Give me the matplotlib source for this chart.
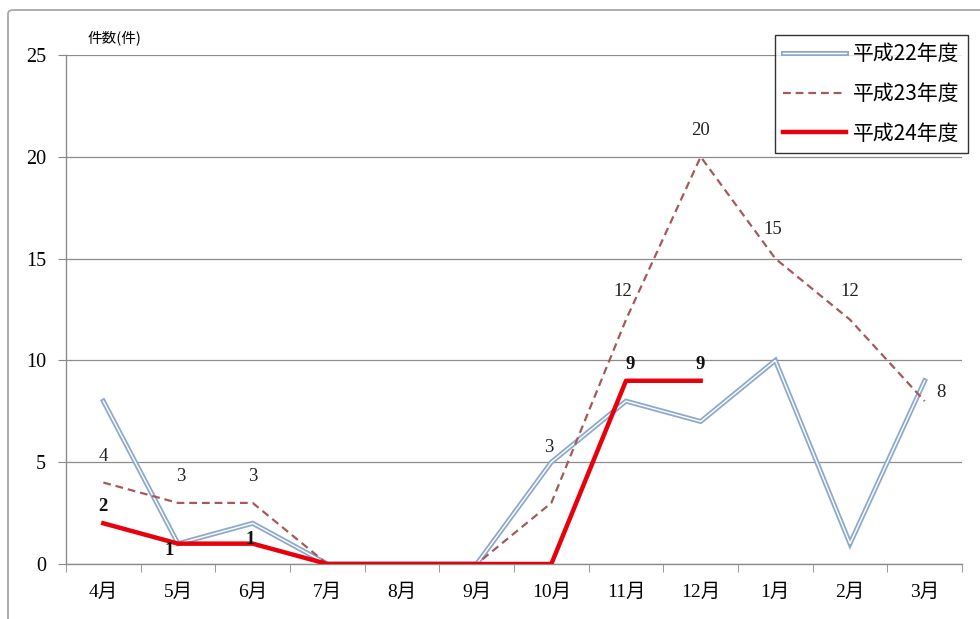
import matplotlib.pyplot as plt
import matplotlib.patheffects as pe
from matplotlib.patches import FancyBboxPatch

months = ["4月", "5月", "6月", "7月", "8月", "9月", "10月", "11月", "12月", "1月", "2月", "3月"]
h22 = [8, 1, 2, 0, 0, 0, 5, 8, 7, 10, 1, 9]
h23 = [4, 3, 3, 0, 0, 0, 3, 12, 20, 15, 12, 8]
h24 = [2, 1, 1, 0, 0, 0, 0, 9, 9]
series_names = ["平成22年度", "平成23年度", "平成24年度"]

# label offsets (points) for the value labels
h23_offsets = [(0, 19), (2, 19), (0, 19), None, None, None, (-2, 40), (-2, 20), (0, 19), (-2, 21), (0, 20), (12, 6)]
h24_offsets = [(0, 12), (-6, -5), (-2, 3), None, None, None, None, (3, 12), (0, 12)]

fnt = ["Liberation Serif", "Noto Sans CJK JP"]
jp = ["Noto Sans CJK JP", "DejaVu Sans"]

fig = plt.figure(figsize=(9.8, 6.19), dpi=100)
ax = fig.add_axes([66 / 980, 1 - 564 / 619, 896 / 980, 509 / 619])

# outer chart frame
frame = FancyBboxPatch((8 / 980, -0.1), 1.2, 1 - 10 / 619 + 0.1,
                       boxstyle="round,pad=0,rounding_size=0.006",
                       transform=fig.transFigure, fill=False,
                       edgecolor="#a0a0a0", linewidth=1.2, zorder=0)
fig.patches.append(frame)

x = list(range(len(months)))

ax.plot(x, h22, color="white", linewidth=1.0, solid_joinstyle="miter",
        path_effects=[pe.Stroke(linewidth=3.6, foreground="#8eaacb"), pe.Normal()],
        label=series_names[0], zorder=3)
ax.plot(x, h23, color="#a45a5a", linewidth=1.6, linestyle=(0, (3.5, 2.2)),
        label=series_names[1], zorder=4)
ax.plot(x[:len(h24)], h24, color="#e8000b", linewidth=3.2,
        label=series_names[2], zorder=5)

for i, v in enumerate(h23):
    if h23_offsets[i] is None:
        continue
    ax.annotate(str(v), (i, v), xytext=h23_offsets[i], textcoords="offset points",
                ha="center", va="center", fontsize=13.5, family=fnt, color="#222222", zorder=6)
for i, v in enumerate(h24):
    if h24_offsets[i] is None:
        continue
    ax.annotate(str(v), (i, v), xytext=h24_offsets[i], textcoords="offset points",
                ha="center", va="center", fontsize=13.5, family=fnt, fontweight="bold",
                color="#111111", zorder=6)

ax.set_xlim(-0.5, len(months) - 0.5)
ax.set_ylim(0, 25)
ax.set_yticks([0, 5, 10, 15, 20, 25])
ax.set_xticks(x)
ax.set_xticklabels(months, family=fnt, fontsize=14)
ax.set_xticks([i - 0.5 for i in range(len(months) + 1)], minor=True)
ax.tick_params(axis="x", which="major", length=0, pad=14)
ax.tick_params(axis="x", which="minor", length=6, color="#888888", direction="out")
ax.tick_params(axis="y", length=5.5, color="#888888", pad=9)
for lbl in ax.get_yticklabels():
    lbl.set_family(fnt)
    lbl.set_fontsize(14.5)

ax.grid(axis="y", color="#8c8c8c", linewidth=0.9)
ax.set_axisbelow(True)
for s in ["top", "right"]:
    ax.spines[s].set_visible(False)
for s in ["left", "bottom"]:
    ax.spines[s].set_color("#8c8c8c")
    ax.spines[s].set_linewidth(1.0)

fig.text(88 / 980, 1 - 38 / 619, "件数(件)", family=jp, fontsize=10.5, va="center")

leg = ax.legend(loc="upper left", bbox_to_anchor=(775 / 980, 1 - 35 / 619),
                bbox_transform=fig.transFigure, prop={"family": jp, "size": 15},
                frameon=True, fancybox=False, edgecolor="black", handlelength=3.0,
                borderpad=0.4, labelspacing=0.85, handletextpad=0.35, borderaxespad=0)
leg.get_frame().set_linewidth(1.0)
leg.set_zorder(10)

fig.savefig("out.png", dpi=100)
